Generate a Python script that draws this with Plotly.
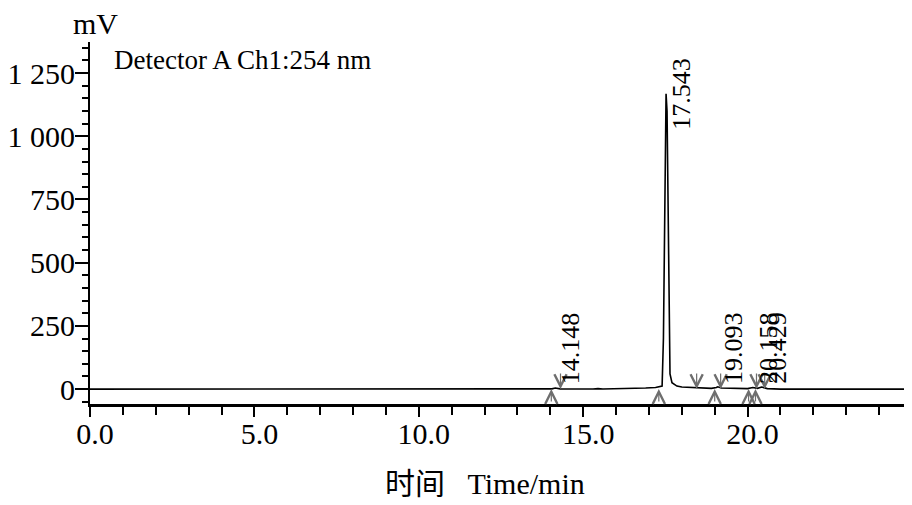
import plotly.graph_objects as go

# chromatogram trace (min, mV)
time_min = [0.0, 13.9, 14.05, 14.15, 14.3, 15.3, 15.45, 15.6, 16.6, 16.9, 17.2,
            17.4, 17.44, 17.48, 17.52, 17.55, 17.58, 17.61, 17.64, 17.7,
            17.85, 18.0, 18.4, 18.9, 19.05, 19.093, 19.2, 20.0, 20.158, 20.3,
            20.429, 20.6, 21.0, 25.0]
signal_mv = [0, 0, 1, 4, 1, 0.5, 2, 0.5, 1, 4, 6,
             12, 200, 800, 1168, 1100, 700, 200, 60, 25,
             12, 8, 5, 3, 6, 9, 4, 2, 6, 3,
             8, 2, 0, 0]

# integrated peaks
peak_rt = [14.148, 17.543, 19.093, 20.158, 20.429]
peak_height = [4, 1168, 9, 6, 8]

# integration start / end markers (min)
start_marks = [14.03, 17.30, 19.00, 20.03, 20.24]
end_marks = [14.31, 18.45, 19.18, 20.27, 20.52]

FONT = 'Liberation Serif, Times New Roman, Noto Sans CJK SC'
ARROW = '#6e6e6e'

fig = go.Figure()
fig.add_trace(go.Scatter(
    x=time_min, y=signal_mv, mode='lines',
    line=dict(color='black', width=1.6),
    hoverinfo='skip', showlegend=False
))

annotations = []
for t in start_marks:
    annotations.append(dict(x=t, y=0, xref='x', yref='y', ax=0, ay=14,
                            showarrow=True, arrowhead=5, arrowsize=2,
                            arrowwidth=1.2, arrowcolor=ARROW, text=''))
for t in end_marks:
    annotations.append(dict(x=t, y=0, xref='x', yref='y', ax=0, ay=-17,
                            showarrow=True, arrowhead=5, arrowsize=2,
                            arrowwidth=1.2, arrowcolor=ARROW, text=''))

for rt, h in zip(peak_rt, peak_height):
    annotations.append(dict(x=rt, y=max(h, 162), xref='x', yref='y',
                            text=f'{rt:.3f}', textangle=-90, showarrow=False,
                            xanchor='center', yanchor='middle', xshift=15,
                            font=dict(family='Liberation Serif', size=26, color='black')))

annotations += [
    dict(x=0, y=1, xref='paper', yref='paper', text='mV', showarrow=False,
         xanchor='center', yanchor='middle', xshift=5, yshift=19,
         font=dict(family=FONT, size=30, color='black')),
    dict(x=0, y=1, xref='paper', yref='paper', text='Detector A Ch1:254 nm',
         showarrow=False, xanchor='left', yanchor='middle', xshift=22, yshift=-18,
         font=dict(family=FONT, size=27, color='black')),
    dict(x=0.48, y=0, xref='paper', yref='paper',
         text='时间\u00a0\u00a0\u00a0Time/min',
         showarrow=False, xanchor='center', yanchor='middle', yshift=-79,
         font=dict(family=FONT, size=30, color='black')),
]

# the page body adds an 8px margin, so the figure is 8px smaller and shifted
fig.update_layout(
    width=904, height=497,
    margin=dict(l=82, r=0, t=34, b=101),
    paper_bgcolor='white', plot_bgcolor='white',
    font=dict(family=FONT, size=30, color='black'),
    separators='. ',
    annotations=annotations,
    xaxis=dict(
        range=[0, 25], dtick=5, tick0=0, tickformat='.1f', automargin=False,
        showline=True, linewidth=3, linecolor='black', mirror=False,
        ticks='outside', ticklen=10, tickwidth=2, tickcolor='black',
        minor=dict(dtick=1, ticklen=8, tickwidth=2, tickcolor='black', ticks='outside'),
        showgrid=False, zeroline=False, ticklabelstandoff=-9, ticklabelshift=5,
        tickfont=dict(family=FONT, size=30),
    ),
    yaxis=dict(
        range=[-59, 1373], dtick=250, tick0=0, separatethousands=True, automargin=False,
        showline=True, linewidth=2, linecolor='black',
        ticks='outside', ticklen=13, tickwidth=2, tickcolor='black',
        minor=dict(dtick=50, ticklen=6, tickwidth=2, tickcolor='black', ticks='outside'),
        showgrid=False, zeroline=False, ticklabelstandoff=-6,
        tickfont=dict(family=FONT, size=30),
    ),
)

fig.write_html("out.html")
